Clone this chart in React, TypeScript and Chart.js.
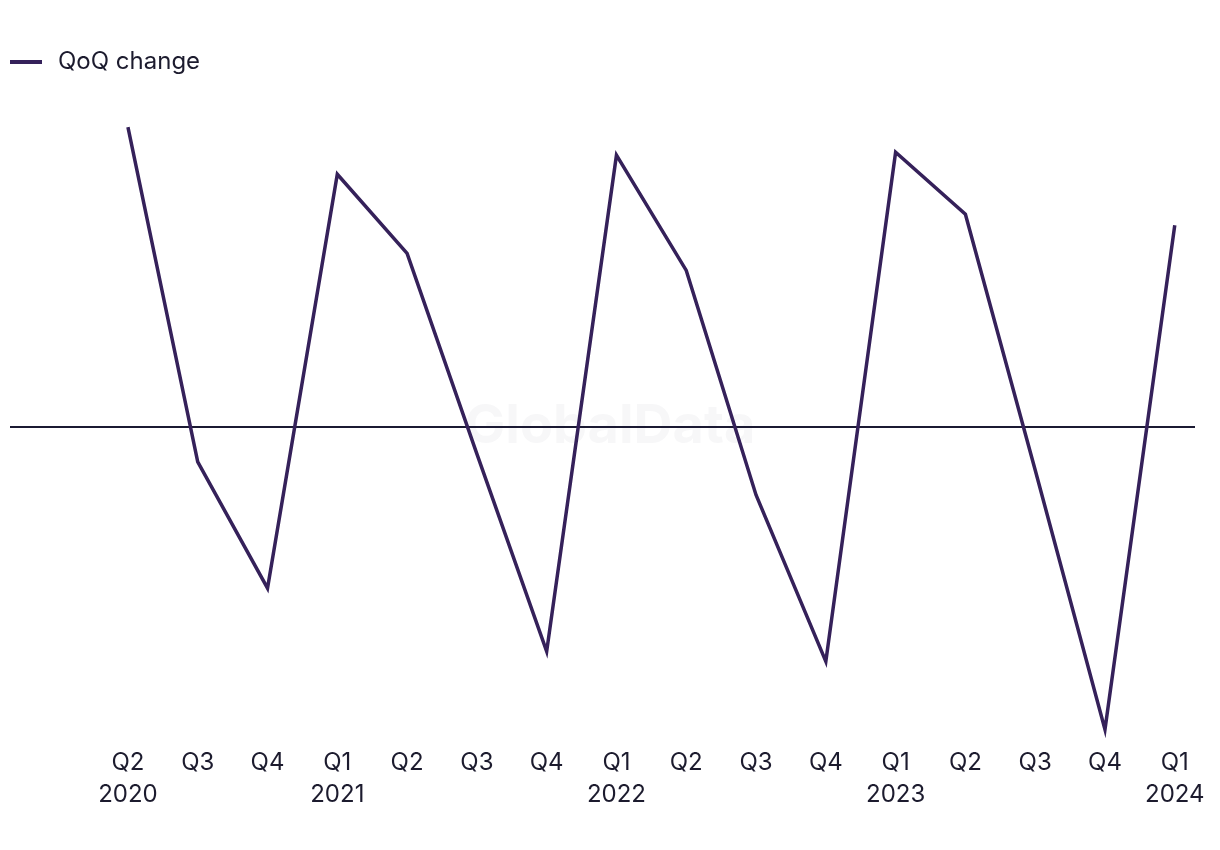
import React, { useEffect, useRef } from "react";
import { Chart, registerables } from "chart.js";

Chart.register(...registerables);

const quarters = ["Q2", "Q3", "Q4", "Q1", "Q2", "Q3", "Q4", "Q1", "Q2", "Q3", "Q4", "Q1", "Q2", "Q3", "Q4", "Q1"];
const years = ["2020", "", "", "2021", "", "", "", "2022", "", "", "", "2023", "", "", "", "2024"];
const qoqChange = [14.95, -1.75, -8.05, 12.6, 8.65, -1.35, -11.2, 13.55, 7.8, -3.4, -11.7, 13.7, 10.6, -2.15, -15.1, 10.05];
const seriesLabel = "QoQ change";

const LINE_COLOR = "#35215a";
const TEXT_COLOR = "#1c1b2e";
const FONT = "Inter";

export default function App() {
  const ref = useRef<HTMLCanvasElement | null>(null);

  useEffect(() => {
    if (!ref.current) return;
    const swatch = document.createElement("canvas");
    swatch.width = 32;
    swatch.height = 4;
    const sctx = swatch.getContext("2d")!;
    sctx.fillStyle = LINE_COLOR;
    sctx.fillRect(0, 0, 32, 4);

    const watermark = {
      id: "watermark",
      beforeDatasetsDraw(chart: any) {
        const { ctx } = chart;
        ctx.save();
        ctx.font = `bold 54px ${FONT}`;
        ctx.fillStyle = "rgba(40,40,70,0.04)";
        ctx.textAlign = "center";
        ctx.textBaseline = "middle";
        ctx.fillText("GlobalData", 610, 427);
        ctx.restore();
      },
    };

    const chart = new Chart(ref.current, {
      type: "line",
      data: {
        datasets: [
          {
            label: seriesLabel,
            data: qoqChange.map((v, i) => ({ x: i, y: v })),
            borderColor: LINE_COLOR,
            backgroundColor: LINE_COLOR,
            borderWidth: 3.5,
            pointRadius: 0,
            pointHoverRadius: 0,
            tension: 0,
            borderCapStyle: "butt",
            fill: false,
          },
        ],
      },
      options: {
        responsive: false,
        animation: false,
        devicePixelRatio: 1,
        layout: { padding: { top: 44, bottom: 37, left: 0, right: 25 } },
        plugins: {
          legend: {
            display: true,
            position: "top",
            align: "start",
            labels: {
              usePointStyle: true,
              pointStyle: swatch as any,
              pointStyleWidth: 40,
              padding: 6,
              color: TEXT_COLOR,
              font: { family: FONT, size: 24 },
            },
          },
          tooltip: { enabled: false },
        },
        scales: {
          x: {
            type: "linear",
            min: -1.69,
            max: 15.29,
            border: { display: false },
            grid: { display: false, drawTicks: false },
            afterBuildTicks: (scale: any) => {
              scale.ticks = quarters.map((_, i) => ({ value: i }));
            },
            ticks: {
              autoSkip: false,
              maxRotation: 0,
              padding: 3,
              color: TEXT_COLOR,
              font: { family: FONT, size: 24, lineHeight: 1.3 },
              callback: (value: any) => {
                const v = Number(value);
                if (!Number.isInteger(v) || v < 0 || v >= quarters.length) return "";
                return years[v] ? [quarters[v], years[v]] : quarters[v];
              },
            },
          },
          y: {
            min: -15.85,
            max: 17.1,
            border: { display: false },
            afterFit: (scale: any) => {
              scale.width = 10;
            },
            grid: {
              drawTicks: false,
              lineWidth: 2,
              color: (ctx: any) => (ctx.tick && ctx.tick.value === 0 ? "#1b1a33" : "rgba(0,0,0,0)"),
            },
            ticks: { display: false, stepSize: 1 },
          },
        },
      },
      plugins: [watermark],
    });
    return () => chart.destroy();
  }, []);

  return (
    <div style={{ position: "absolute", left: 0, top: 0, width: 1220, height: 850, background: "#fff" }}>
      <canvas ref={ref} width={1220} height={850} style={{ display: "block", width: 1220, height: 850 }} />
    </div>
  );
}
